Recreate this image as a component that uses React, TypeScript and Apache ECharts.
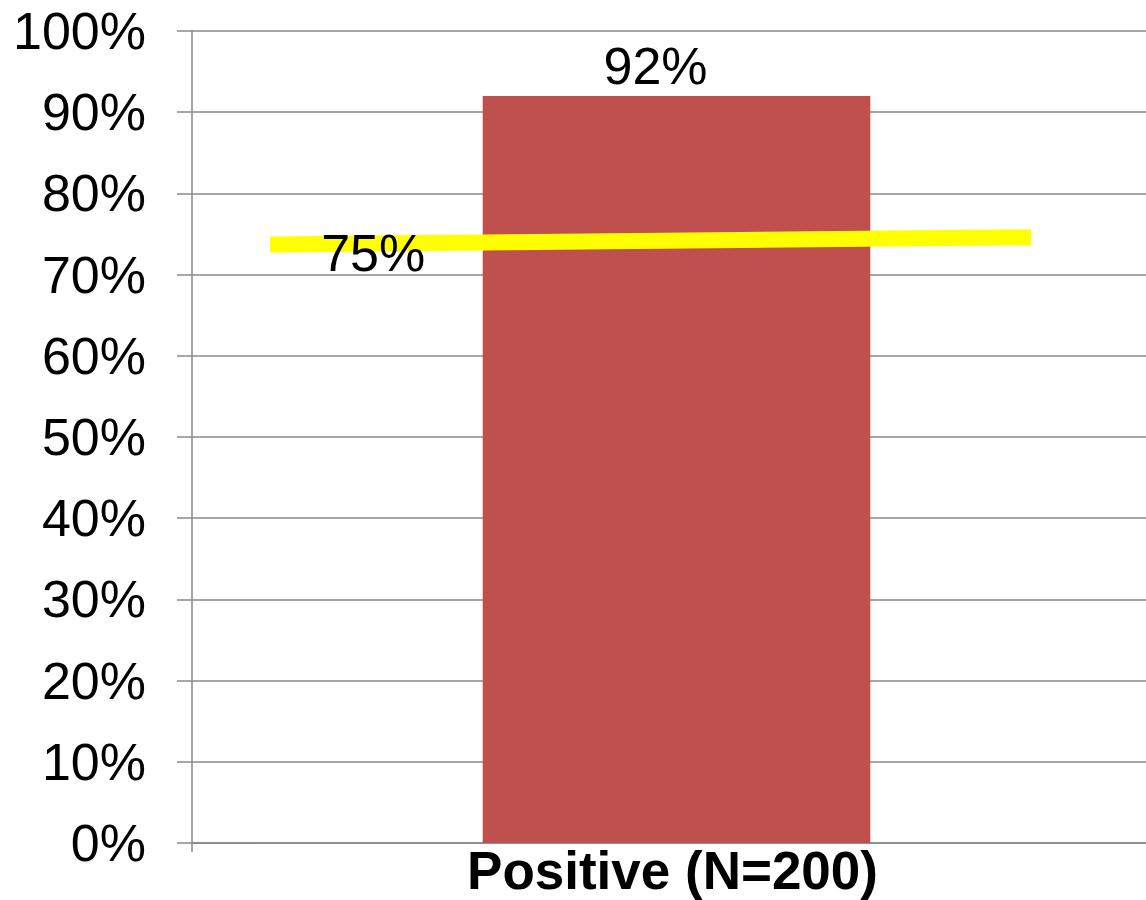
import React, { useEffect, useRef } from "react";
import * as echarts from "echarts";

const categories = ["Positive (N=200)"];
const barValues = [92];
const barLabels = ["92%"];
// hand-drawn benchmark line: [relative x position across plot, value %]
const benchmarkLine: [number, number][] = [
  [0.0805, 73.7],
  [0.866, 74.6],
];
const benchmarkLabel = "75%";
const benchmarkLabelPos: [number, number] = [0.187, 72.7];
const yTicks = { min: 0, max: 100, interval: 10 };

const FONT = "'Liberation Sans', Arial, Helvetica, sans-serif";
const GRID_COLOR = "#888888";

export default function App() {
  const ref = useRef<HTMLDivElement>(null);
  useEffect(() => {
    if (!ref.current) return;
    const chart = echarts.init(ref.current, undefined, { renderer: "svg" });
    chart.setOption({
      animation: false,
      backgroundColor: "#ffffff",
      textStyle: { fontFamily: FONT },
      grid: {
        left: 192,
        top: 31,
        width: 969,
        height: 812,
        containLabel: false,
        outerBoundsMode: "none",
      },
      xAxis: [
        {
          type: "category",
          data: categories,
          axisLine: { show: true, lineStyle: { color: GRID_COLOR, width: 1.5 } },
          axisTick: { show: true, length: 9, lineStyle: { color: GRID_COLOR, width: 1.5 } },
          axisLabel: {
            color: "#000",
            fontFamily: FONT,
            fontSize: 53,
            fontWeight: "bold",
            margin: 1,
            padding: [0, 8, 0, 0],
          },
        },
        {
          type: "value",
          min: 0,
          max: 1,
          show: false,
        },
      ],
      yAxis: {
        type: "value",
        min: yTicks.min,
        max: yTicks.max,
        interval: yTicks.interval,
        axisLine: { show: true, lineStyle: { color: GRID_COLOR, width: 1.5 } },
        axisTick: { show: true, length: 15, lineStyle: { color: GRID_COLOR, width: 1.5 } },
        splitLine: { show: true, lineStyle: { color: GRID_COLOR, width: 1.5 } },
        axisLabel: {
          color: "#000",
          fontFamily: FONT,
          fontSize: 52,
          margin: 46,
          formatter: "{value}%",
        },
      },
      series: [
        {
          type: "bar",
          data: barValues,
          barWidth: "40%",
          itemStyle: { color: "#C0504D" },
          label: {
            show: true,
            position: "top",
            distance: 4,
            offset: [-21, 0],
            color: "#000",
            fontFamily: FONT,
            fontSize: 52,
            formatter: (p: any) => barLabels[p.dataIndex],
          },
        },
        {
          type: "line",
          xAxisIndex: 1,
          yAxisIndex: 0,
          data: benchmarkLine,
          symbol: "none",
          lineStyle: { color: "#FFFF00", width: 16, cap: "butt" },
          z: 3,
          markPoint: {
            symbol: "circle",
            symbolSize: 0,
            data: [
              {
                coord: benchmarkLabelPos,
                label: {
                  show: true,
                  position: "inside",
                  formatter: benchmarkLabel,
                  color: "#000",
                  fontFamily: FONT,
                  fontSize: 52,
                },
              },
            ],
          },
        },
      ],
    });
    return () => chart.dispose();
  }, []);
  return (
    <div
      ref={ref}
      style={{ position: "absolute", left: 0, top: 0, width: 1146, height: 900 }}
    />
  );
}
